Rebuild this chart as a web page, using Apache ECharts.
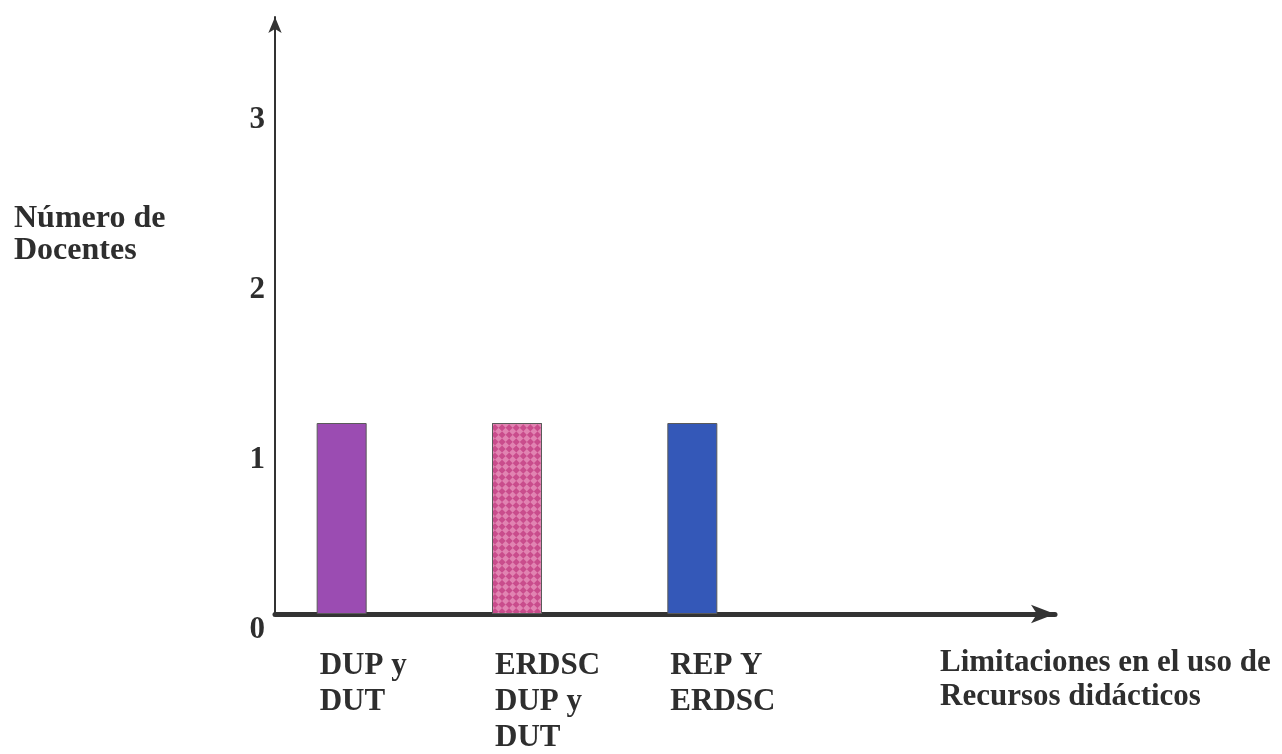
<!DOCTYPE html>
<html>
<head>
<meta charset="utf-8">
<script src="https://cdn.jsdelivr.net/npm/echarts@6/dist/echarts.min.js"></script>
<style>
html,body{margin:0;padding:0;background:#fff;}
#chart{width:1282px;height:754px;}
</style>
</head>
<body>
<div id="chart"></div>
<script>
const categories = ['DUP y\nDUT', 'ERDSC\nDUP y\nDUT', 'REP Y\nERDSC'];
const values = [1, 1, 1];
const barColors = ['#9b4cb2', '#c94c8c', '#3458b8'];
const yTicks = ['0', '1', '2', '3'];
const yTitle = 'Número de\nDocentes';
const xTitle = 'Limitaciones en el uso de\nRecursos didácticos';

const font = '"Liberation Serif", "Times New Roman", serif';
const textColor = '#2e2e2e';
const chart = echarts.init(document.getElementById('chart'));

const data = values.map((v, i) => {
  const item = { value: v, itemStyle: { color: barColors[i], borderColor: '#5a5a5a', borderWidth: 1 } };
  if (i === 1) {
    item.itemStyle.decal = {
      symbol: 'rect',
      symbolSize: 1,
      color: 'rgba(255,200,225,0.45)',
      dashArrayX: [[5, 5], [0, 5, 5, 0]],
      dashArrayY: [5, 0],
      rotation: Math.PI / 4
    };
  }
  return item;
});

chart.setOption({
  animation: false,
  backgroundColor: '#fff',
  title: {
    text: yTitle,
    left: 14,
    top: 203,
    padding: 0,
    textStyle: { fontFamily: font, fontWeight: 'bold', fontSize: 32, lineHeight: 32, color: textColor }
  },
  grid: [
    { left: 254, width: 526, top: 17, bottom: 140 },
    { left: 275, right: 227, top: 17, bottom: 140 }
  ],
  xAxis: [
    {
      type: 'category',
      gridIndex: 0,
      data: categories,
      axisLine: { show: false },
      axisTick: { show: false },
      axisLabel: {
        margin: 34,
        interval: 0,
        formatter: function (v) {
          return v.split('\n').map(l => '{a|' + l + '}').join('\n');
        },
        rich: { a: { width: 44, align: 'left', fontFamily: font, fontWeight: 'bold', fontSize: 31, lineHeight: 36, color: textColor } }
      }
    },
    {
      type: 'value',
      gridIndex: 1,
      min: 0,
      max: 1,
      axisLine: { show: true, lineStyle: { color: '#333', width: 5 }, symbol: ['none', 'arrow'], symbolSize: [14, 24] },
      axisTick: { show: false },
      axisLabel: { show: false },
      splitLine: { show: false },
      name: xTitle,
      nameLocation: 'end',
      nameGap: -115,
      nameTextStyle: {
        fontFamily: font, fontWeight: 'bold', fontSize: 31, lineHeight: 34, color: textColor,
        align: 'left', verticalAlign: 'top', padding: [32, 0, 0, 0]
      }
    }
  ],
  yAxis: [
    {
      type: 'value',
      gridIndex: 0,
      min: 0,
      max: 597 / 191,
      show: false
    },
    {
      type: 'value',
      gridIndex: 1,
      min: 0,
      max: 597 / 170,
      interval: 1,
      axisLine: { show: true, lineStyle: { color: '#333', width: 2 }, symbol: ['none', 'arrow'], symbolSize: [10, 16] },
      axisTick: { show: false },
      splitLine: { show: false },
      axisLabel: {
        showMaxLabel: false,
        margin: 10,
        fontFamily: font,
        fontWeight: 'bold',
        fontSize: 31,
        color: textColor,
        verticalAlign: 'top',
        formatter: function (v) { const t = yTicks[Math.round(v)]; return t !== undefined ? t : ''; }
      }
    }
  ],
  series: [
    {
      type: 'bar',
      xAxisIndex: 0,
      yAxisIndex: 0,
      barWidth: 50,
      data: data
    }
  ]
});
</script>
</body>
</html>
